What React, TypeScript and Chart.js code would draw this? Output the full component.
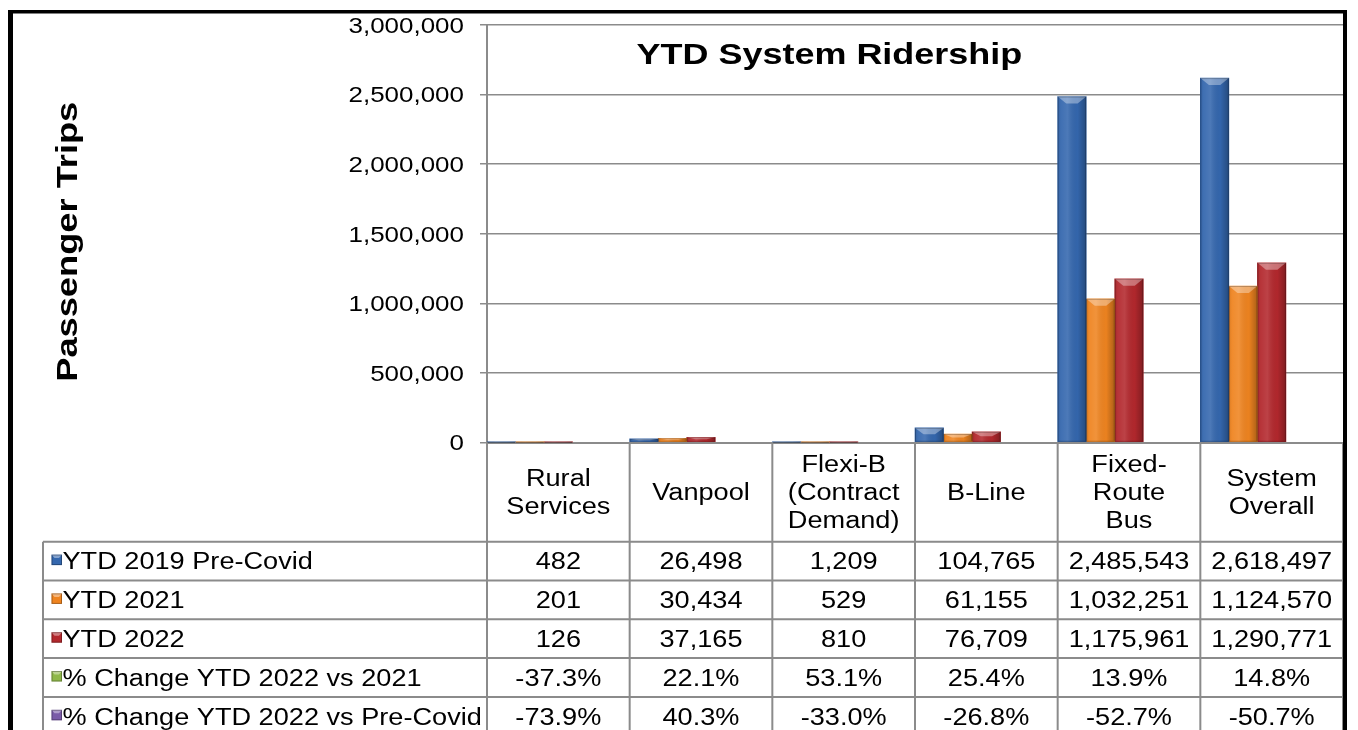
import React, { useEffect, useRef } from "react";
import { Chart, registerables } from "chart.js";

Chart.register(...registerables);

// ---------- data ----------
const chartTitle = "YTD System Ridership";
const yAxisTitle = "Passenger Trips";

const categoryLines: string[][] = [
  ["Rural", "Services"],
  ["Vanpool"],
  ["Flexi-B", "(Contract", "Demand)"],
  ["B-Line"],
  ["Fixed-", "Route", "Bus"],
  ["System", "Overall"],
];

const seriesNames = [
  "YTD 2019 Pre-Covid",
  "YTD 2021",
  "YTD 2022",
  "% Change YTD 2022 vs 2021",
  "% Change YTD 2022 vs Pre-Covid",
];

const ytd2019PreCovid = [482, 26498, 1209, 104765, 2485543, 2618497];
const ytd2021 = [201, 30434, 529, 61155, 1032251, 1124570];
const ytd2022 = [126, 37165, 810, 76709, 1175961, 1290771];
const pctChange2022vs2021 = [-37.3, 22.1, 53.1, 25.4, 13.9, 14.8];
const pctChange2022vsPreCovid = [-73.9, 40.3, -33.0, -26.8, -52.7, -50.7];

const yMin = 0;
const yMax = 3000000;
const yStep = 500000;

const seriesColors = ["#3467ae", "#ef8420", "#b3282d", "#8fb84a", "#7a5ba8"];

// ---------- styling helpers ----------
const FONT = '"Liberation Sans", Arial, Helvetica, sans-serif';
const LINE_GRAY = "#8b8b8b";

function drawText(
  ctx: CanvasRenderingContext2D,
  text: string,
  x: number,
  baseline: number,
  size: number,
  bold: boolean,
  align: CanvasTextAlign,
  sx: number,
  rotate = false
) {
  ctx.save();
  ctx.font = `${bold ? "bold " : ""}${size}px ${FONT}`;
  ctx.textAlign = align;
  ctx.textBaseline = "alphabetic";
  ctx.fillStyle = "#000000";
  ctx.translate(x, baseline);
  if (rotate) ctx.rotate(-Math.PI / 2);
  ctx.scale(sx, 1);
  ctx.fillText(text, 0, 0);
  ctx.restore();
}

function fmtCount(v: number) {
  return v.toLocaleString("en-US");
}
function fmtPct(v: number) {
  return (v * 100).toFixed(1) + "%";
}

const decorPlugin = {
  id: "ridershipDecor",
  afterDatasetsDraw(chart: any) {
    const ctx: CanvasRenderingContext2D = chart.ctx;
    for (let di = 0; di < 3; di++) {
      const meta = chart.getDatasetMeta(di);
      meta.data.forEach((el: any) => {
        const { x, y, base, width } = el.getProps(["x", "y", "base", "width"], true);
        const left = x - width / 2;
        const right = x + width / 2;
        const top = Math.min(y, base);
        const bot = Math.max(y, base);
        const h = bot - top;
        if (h < 0.5) return;
        ctx.save();
        const g = ctx.createLinearGradient(left, 0, right, 0);
        g.addColorStop(0, "rgba(0,0,0,0.10)");
        g.addColorStop(0.12, "rgba(255,255,255,0.06)");
        g.addColorStop(0.35, "rgba(255,255,255,0.12)");
        g.addColorStop(0.7, "rgba(0,0,0,0.02)");
        g.addColorStop(1, "rgba(0,0,0,0.28)");
        ctx.fillStyle = g;
        ctx.fillRect(left, top, width, h);
        const bev = Math.min(7, h * 0.45);
        ctx.beginPath();
        ctx.moveTo(left, top);
        ctx.lineTo(right, top);
        ctx.lineTo(right - width * 0.3, top + bev);
        ctx.lineTo(left + width * 0.3, top + bev);
        ctx.closePath();
        ctx.fillStyle = "rgba(255,255,255,0.35)";
        ctx.fill();
        ctx.strokeStyle = "rgba(0,0,0,0.22)";
        ctx.lineWidth = 1;
        ctx.strokeRect(left + 0.5, top + 0.5, Math.max(0, width - 1), Math.max(0, h - 1));
        ctx.restore();
      });
    }
  },
  afterDraw(chart: any) {
    const ctx: CanvasRenderingContext2D = chart.ctx;
    const ca = chart.chartArea;
    const xs = chart.scales.x;
    const ys = chart.scales.y;

    // y tick labels
    ys.ticks.forEach((t: any) => {
      const py = ys.getPixelForValue(t.value);
      drawText(ctx, fmtCount(t.value), ca.left - 23, py + 0.358 * 22, 22, false, "right", 1.18);
    });

    // chart title (inside plot area)
    drawText(ctx, chartTitle, ca.left + ca.width * 0.4, ca.top + 38.5, 29, true, "center", 1.24);

    // y axis title
    drawText(ctx, yAxisTitle, 77, (ca.top + ca.bottom) / 2 + 8, 29, true, "center", 1.25, true);

    // data table
    const n = categoryLines.length;
    const cw = xs.width / n;
    const headerH = 99.2;
    const rowH = 38.8;
    const tableTop = ca.bottom + headerH;
    const tableLeft = 43;
    const bottomY = chart.height + 10;

    ctx.save();
    ctx.strokeStyle = LINE_GRAY;
    ctx.lineWidth = 2;
    ctx.beginPath();
    for (let i = 0; i <= n; i++) {
      const lx = xs.left + i * cw;
      ctx.moveTo(lx, ca.bottom);
      ctx.lineTo(lx, bottomY);
    }
    ctx.moveTo(tableLeft, tableTop);
    ctx.lineTo(tableLeft, bottomY);
    for (let r = 0; r <= seriesNames.length; r++) {
      const ly = tableTop + r * rowH;
      ctx.moveTo(tableLeft, ly);
      ctx.lineTo(xs.right, ly);
    }
    ctx.stroke();
    ctx.restore();

    // header category labels
    const headerMid = ca.bottom + headerH / 2;
    categoryLines.forEach((lines, i) => {
      const cx = xs.getPixelForValue(i);
      lines.forEach((ln, k) => {
        const cy = headerMid + (k - (lines.length - 1) / 2) * 28;
        drawText(ctx, ln, cx, cy + 0.358 * 23, 23, false, "center", 1.18);
      });
    });

    // rows
    chart.data.datasets.forEach((ds: any, di: number) => {
      const rowMid = tableTop + (di + 0.5) * rowH;
      // legend key
      const kx = 51.5;
      const ky = rowMid - 6.5;
      const col = seriesColors[di];
      ctx.save();
      ctx.fillStyle = col;
      ctx.fillRect(kx, ky, 10.5, 10.5);
      ctx.fillStyle = "rgba(255,255,255,0.4)";
      ctx.beginPath();
      ctx.moveTo(kx, ky);
      ctx.lineTo(kx + 10.5, ky);
      ctx.lineTo(kx + 7.5, ky + 3.5);
      ctx.lineTo(kx + 3, ky + 3.5);
      ctx.closePath();
      ctx.fill();
      ctx.strokeStyle = "rgba(0,0,0,0.3)";
      ctx.lineWidth = 1;
      ctx.strokeRect(kx + 0.5, ky + 0.5, 9.5, 9.5);
      ctx.restore();
      drawText(ctx, seriesNames[di], 62.5, rowMid + 0.358 * 23, 23, false, "left", 1.18);
      ds.data.forEach((v: number, i: number) => {
        const txt = di >= 3 ? fmtPct(v) : fmtCount(v);
        drawText(ctx, txt, xs.getPixelForValue(i), rowMid + 0.358 * 23, 23, false, "center", 1.18);
      });
    });

    // outer black frame
    ctx.save();
    ctx.fillStyle = "#000000";
    ctx.fillRect(8, 10, 5, chart.height);
    ctx.fillRect(8, 10, 1339, 3.5);
    ctx.fillRect(1343, 10, 4, chart.height);
    ctx.restore();
  },
};

export default function App() {
  const canvasRef = useRef<HTMLCanvasElement | null>(null);

  useEffect(() => {
    if (!canvasRef.current) return;
    const datasetsData = [
      ytd2019PreCovid,
      ytd2021,
      ytd2022,
      pctChange2022vs2021.map((v) => v / 100),
      pctChange2022vsPreCovid.map((v) => v / 100),
    ];
    const chart = new Chart(canvasRef.current, {
      type: "bar",
      data: {
        labels: categoryLines.map((l) => l.join(" ")),
        datasets: datasetsData.map((d, i) => ({
          label: seriesNames[i],
          data: d,
          backgroundColor: i >= 3 ? "rgba(0,0,0,0)" : seriesColors[i],
          borderWidth: 0,
          categoryPercentage: 1,
          barPercentage: 1,
        })),
      },
      options: {
        responsive: false,
        animation: false,
        devicePixelRatio: 1,
        events: [],
        layout: { padding: { left: 480, right: 15, top: 25, bottom: 0 } },
        plugins: {
          legend: { display: false },
          tooltip: { enabled: false },
          title: { display: false },
        },
        scales: {
          x: {
            grid: { display: false },
            ticks: { display: false },
            border: { display: true, color: LINE_GRAY, width: 2 },
            afterFit: (scale: any) => {
              scale.height = 287.5;
            },
          },
          y: {
            min: yMin,
            max: yMax,
            ticks: { display: false, stepSize: yStep },
            grid: {
              color: LINE_GRAY,
              lineWidth: 1.5,
              drawTicks: true,
              tickLength: 7,
              tickColor: LINE_GRAY,
            },
            border: { display: true, color: LINE_GRAY, width: 2 },
            afterFit: (scale: any) => {
              scale.width = 7;
            },
          },
        },
      },
      plugins: [decorPlugin],
    } as any);
    return () => chart.destroy();
  }, []);

  return (
    <canvas
      ref={canvasRef}
      width={1358}
      height={730}
      style={{ position: "fixed", left: 0, top: 0, width: "1358px", height: "730px", display: "block" }}
    />
  );
}
